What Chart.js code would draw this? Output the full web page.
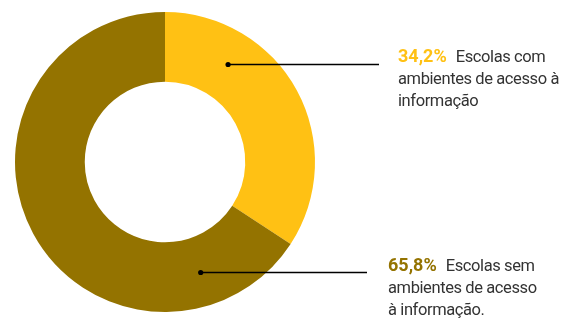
<!DOCTYPE html>
<html>
<head>
<meta charset="utf-8">
<script src="https://cdn.jsdelivr.net/npm/chart.js@4/dist/chart.umd.min.js"></script>
<style>
  html, body { margin: 0; padding: 0; background: #fff; }
  #wrap { width: 568px; height: 318px; position: relative; }
</style>
</head>
<body>
<div id="wrap"><canvas id="donutChart"></canvas></div>
<script>
const categories = ["Escolas com ambientes de acesso à informação", "Escolas sem ambientes de acesso à informação"];
const values = [34.2, 65.8];
const colors = ["#FFC114", "#947300"];
const valueLabels = ["34,2%", "65,8%"];
const labelLines = [
  ["Escolas com", "ambientes de acesso à", "informação"],
  ["Escolas sem", "ambientes de acesso", "à informação."],
];

// callouts: leader line at a given y, dot where it meets the ring's middle
const callouts = {
  id: "callouts",
  afterDatasetsDraw(chart) {
    const { ctx } = chart;
    const meta = chart.getDatasetMeta(0);
    const textX = [398, 388];
    const lineEnd = [379, 367];
    const lineY = [64.5, 272.5];
    const baseY = [62, 271];
    meta.data.forEach((arc, i) => {
      const rMid = (arc.innerRadius + arc.outerRadius) / 2 + 1;
      const dy = lineY[i] - arc.y;
      const dotX = arc.x + Math.sqrt(Math.max(0, rMid * rMid - dy * dy));
      ctx.save();
      ctx.strokeStyle = "#000";
      ctx.lineWidth = 1.3;
      ctx.beginPath();
      ctx.moveTo(dotX, lineY[i]);
      ctx.lineTo(lineEnd[i], lineY[i]);
      ctx.stroke();
      ctx.fillStyle = "#000";
      ctx.beginPath();
      ctx.arc(dotX, lineY[i], 2.6, 0, Math.PI * 2);
      ctx.fill();

      ctx.textBaseline = "alphabetic";
      ctx.textAlign = "left";
      ctx.font = "bold 18px Roboto";
      ctx.letterSpacing = "0px";
      ctx.fillStyle = colors[i];
      ctx.fillText(valueLabels[i], textX[i], baseY[i]);
      const w = ctx.measureText(valueLabels[i]).width;
      ctx.font = "16.5px Roboto";
      ctx.letterSpacing = "-0.4px";
      ctx.fillStyle = "#333";
      ctx.fillText(labelLines[i][0], textX[i] + w + 9, baseY[i]);
      for (let k = 1; k < labelLines[i].length; k++) {
        ctx.fillText(labelLines[i][k], textX[i], baseY[i] + 22 * k);
      }
      ctx.restore();
    });
  },
};

new Chart(document.getElementById("donutChart"), {
  type: "doughnut",
  data: {
    labels: categories,
    datasets: [
      {
        data: values,
        backgroundColor: colors,
        borderWidth: 0,
      },
    ],
  },
  options: {
    responsive: true,
    maintainAspectRatio: false,
    animation: false,
    cutout: "53.5%",
    layout: {
      padding: { left: 15, top: 12, right: 253, bottom: 6 },
    },
    plugins: {
      legend: { display: false },
      tooltip: { enabled: false },
    },
  },
  plugins: [callouts],
});
</script>
</body>
</html>
